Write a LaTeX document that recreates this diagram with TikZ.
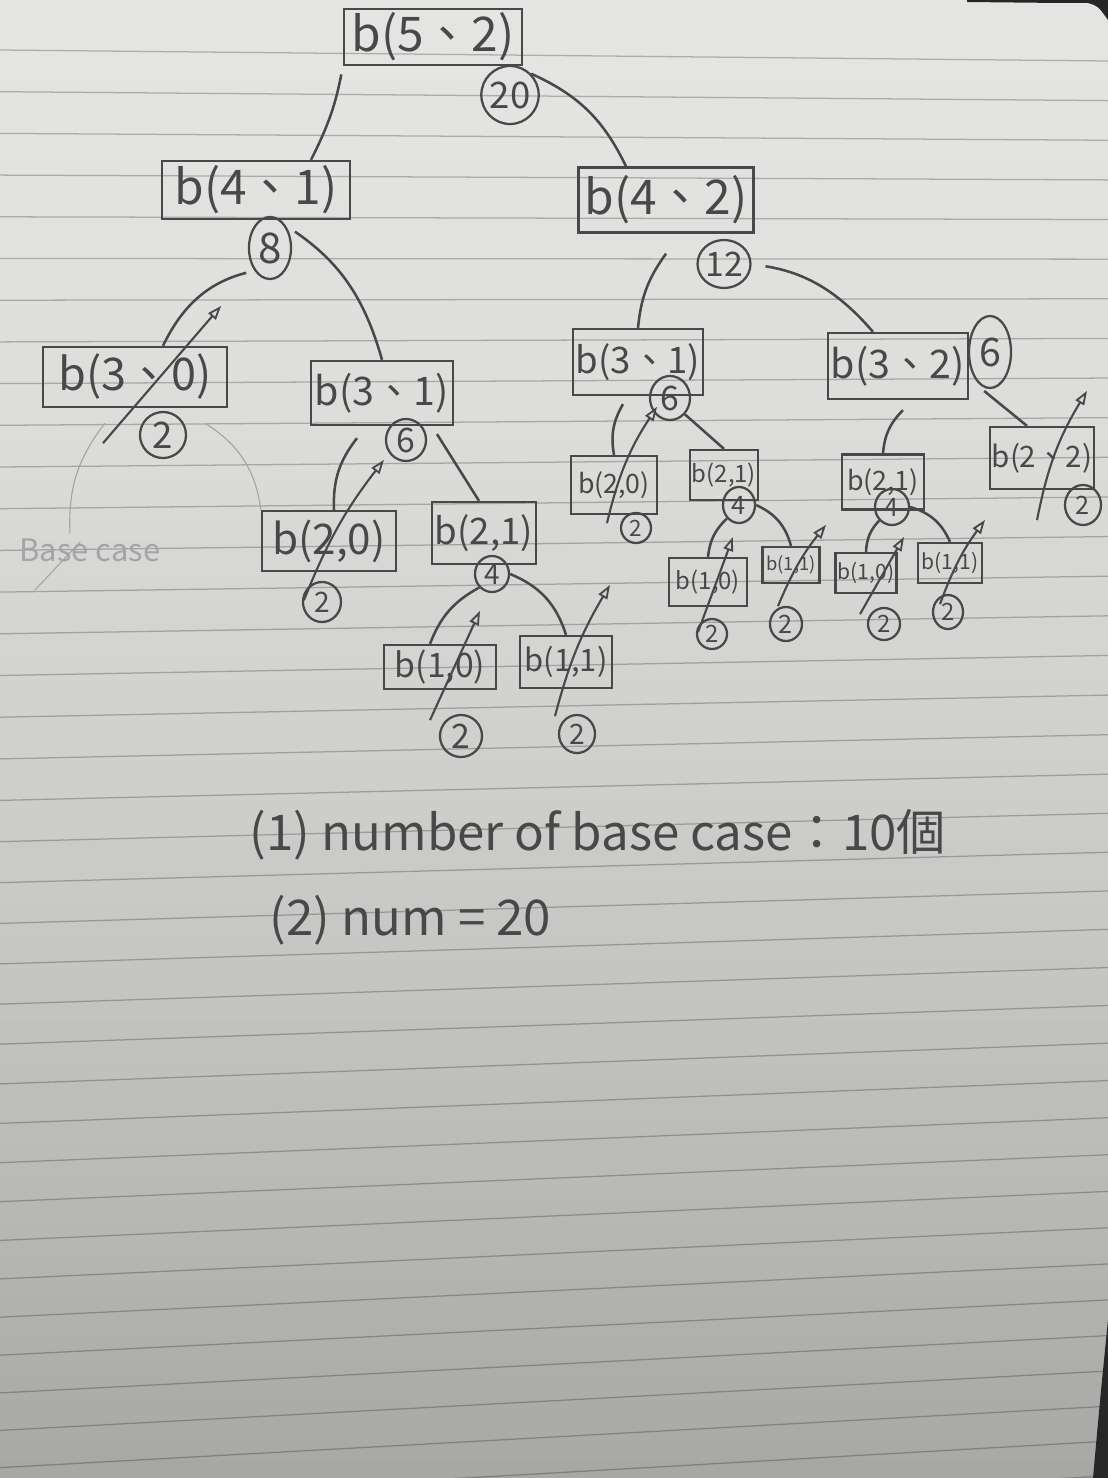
\documentclass[tikz,border=0pt]{standalone}
\usepackage{fontspec}
\setmainfont{Noto Sans CJK TC}
\usepackage{xcolor}
\definecolor{paperT}{HTML}{E4E4E2}
\definecolor{paperB}{HTML}{A6A6A4}
\definecolor{pencil}{HTML}{484848}
\definecolor{faint}{HTML}{A4A4A4}
\usetikzlibrary{arrows.meta,positioning,shapes.geometric}
\newdimen\px
\px=0.7113pt
\tikzset{
  box/.style n args={3}{draw=pencil, line width=1.6pt, text=pencil, inner sep=1pt,
    minimum width=#1*\px, minimum height=#2*\px, font=\fontsize{#3}{#3}\selectfont},
  circ/.style n args={3}{ellipse, draw=pencil, line width=1.6pt, text=pencil, inner sep=0pt,
    minimum width=#1*\px, minimum height=#2*\px, font=\fontsize{#3}{#3}\selectfont},
  link/.style={draw=pencil, line width=1.8pt},
  ret/.style={draw=pencil, line width=1.5pt, -{Triangle[open, length=10pt, width=7pt, line width=1.3pt]}},
  ruled/.style={draw=black, draw opacity=0.24, line width=0.9pt},
  answer/.style={anchor=base west, text=pencil, font=\fontsize{35}{35}\selectfont},
}

\begin{document}
\begin{tikzpicture}[x=0.025cm, y=-0.025cm]
  \useasboundingbox (0,0) rectangle (1108,1478);
  % Paper
  \foreach \s in {0,...,73} {
    \pgfmathtruncatemacro\dark{100*((\s+0.5)/74)^1.6}
    \fill[paperB!\dark!paperT] (0,\s*20) rectangle (1108,\s*20+21);
  }
  \foreach \i in {0,...,38} {
    \pgfmathsetmacro\rowshift{max(0,\i-17)}
    \pgfmathsetmacro\yl{50+41.7*(\i-\rowshift)+41.5*\rowshift-0.125*\rowshift*(\rowshift-1)}
    \pgfmathsetmacro\yr{\yl+11-2.07*\i}
    \draw[ruled] (0,\yl) -- (1108,\yr);
  }
  \fill[black!85] (967,0) -- (1108,0) -- (1108,20) .. controls (1098,6) .. (1088,3) -- (1060,3) -- (967,2) -- cycle;
  \fill[black!85] (1108,1320) .. controls (1100,1400) .. (1093,1478) -- (1108,1478) -- cycle;

  % Level 0 and 1
  \node[box={178}{56}{34}] (b52) at (433,37) {b(5、2)};
  \node[circ={54}{58}{26}] (c52) at (510,95) {20};
  \node[box={188}{58}{34}] (b41) at (256,190) {b(4、1)};
  \node[circ={42}{62}{30}] (c41) at (270,248) {8};
  \node[box={175}{65}{34}] (b42) at (666,200) {b(4、2)};
  \node[circ={50}{48}{24}] (c42) at (724,264) {12};

  % Level 2
  \node[box={184}{60}{32}] (b30) at (135,377) {b(3、0)};
  \node[circ={46}{46}{26}] (c30) at (163,435) {2};
  \node[box={142}{64}{28}] (b31) at (382,393) {b(3、1)};
  \node[circ={40}{42}{24}] (c31) at (406,440) {6};
  \node[box={130}{66}{26}] (b31r) at (638,362) {b(3、1)};
  \node[circ={40}{44}{24}] (c31r) at (670,398) {6};
  \node[box={140}{66}{28}] (b32) at (898,366) {b(3、2)};
  \node[circ={42}{72}{28}] (c32) at (990,352) {6};

  % Level 3 and 4, left
  \node[box={134}{60}{30}] (b20) at (329,541) {b(2,0)};
  \node[circ={38}{40}{20}] (c20) at (322,602) {2};
  \node[box={104}{62}{26}] (b21) at (484,533) {b(2,1)};
  \node[circ={34}{36}{20}] (c21) at (492,574) {4};
  \node[box={112}{44}{24}] (b10) at (440,667) {b(1,0)};
  \node[circ={42}{42}{24}] (c10) at (461,736) {2};
  \node[box={92}{52}{22}] (b11) at (566,662) {b(1,1)};
  \node[circ={36}{38}{20}] (c11) at (577,734) {2};

  % Level 3 and 4, right
  \node[box={86}{58}{19}] (b20r) at (614,485) {b(2,0)};
  \node[circ={30}{30}{16}] (c20r) at (636,528) {2};
  \node[box={68}{50}{17}] (b21r) at (724,475) {b(2,1)};
  \node[circ={32}{36}{18}] (c21r) at (739,505) {4};
  \node[box={78}{48}{17}] (b10r) at (708,582) {b(1,0)};
  \node[circ={30}{30}{17}] (c10r) at (712,634) {2};
  \node[box={57}{36}{13}] (b11r) at (791,565) {b(1,1)};
  \node[circ={32}{34}{18}] (c11r) at (786,624) {2};
  \node[box={82}{55}{19}] (b21rr) at (883,482) {b(2,1)};
  \node[circ={34}{36}{18}] (c21rr) at (892,507) {4};
  \node[box={61}{40}{15}] (b10rr) at (866,573) {b(1,0)};
  \node[circ={32}{32}{17}] (c10rr) at (884,624) {2};
  \node[box={64}{40}{15}] (b11rr) at (950,563) {b(1,1)};
  \node[circ={30}{34}{17}] (c11rr) at (948,612) {2};
  \node[box={104}{62}{21}] (b22) at (1042,458) {b(2、2)};
  \node[circ={36}{40}{18}] (c22) at (1083,505) {2};

  % Base case note
  \node[text=faint, font=\fontsize{22}{22}\selectfont] (base) at (90,550) {Base case};
  \draw[faint, line width=0.8pt] ([shift={(-30,15)}]b30.south) to[bend right=20] ([shift={(-20,0)}]base.north);
  \draw[faint, line width=0.8pt] ([shift={(70,15)}]b30.south) to[bend left=25] (b20.north west);
  \draw[faint, line width=0.8pt] ([shift={(-55,40)}]base.center) -- ([shift={(-10,-8)}]base.center);

  % Calls
  \draw[link, shorten <=6pt] (b52.south west) to[bend left=8] ([shift={(55,0)}]b41.north);
  \draw[link] (c52.north east) to[bend left=20] ([shift={(-40,0)}]b42.north);
  \draw[link, shorten <=6pt] (c41.south west) to[bend right=25] ([shift={(28,0)}]b30.north);
  \draw[link, shorten <=8pt] (c41.north east) to[bend left=20] (b31.north);
  \draw[link] ([shift={(0,20)}]b42.south) to[bend right=15] (b31r.north);
  \draw[link, shorten <=10pt] (c42.east) to[bend left=20] ([shift={(-25,0)}]b32.north);
  \draw[link] ([shift={(-25,12)}]b31.south) to[bend right=20] ([shift={(5,0)}]b20.north);
  \draw[link] ([shift={(55,8)}]b31.south) -- ([shift={(-5,0)}]b21.north);
  \draw[link] (c21.south west) to[bend right=20] ([shift={(-10,0)}]b10.north);
  \draw[link] (c21.east) to[bend left=25] (b11.north);
  \draw[link] ([shift={(-15,8)}]b31r.south) to[bend right=20] (b20r.north);
  \draw[link] (c31r.south east) -- (b21r.north);
  \draw[link] (c21r.south west) to[bend right=20] (b10r.north);
  \draw[link] (c21r.east) to[bend left=25] (b11r.north);
  \draw[link] ([shift={(5,10)}]b32.south) to[bend right=20] (b21rr.north);
  \draw[link] ([shift={(15,25)}]b32.east) -- ([shift={(-15,0)}]b22.north);
  \draw[link] (c21rr.south west) to[bend right=20] (b10rr.north);
  \draw[link] (c21rr.east) to[bend left=25] (b11rr.north);

  % Returns
  \draw[ret] ([shift={(-32,35)}]b30.south) -- ([shift={(-7,-40)}]b30.north east);
  \draw[ret] ([shift={(-25,28)}]b20.south) to[bend left=8] ([shift={(55,-50)}]b20.north);
  \draw[ret] ([shift={(-10,30)}]b10.south) -- ([shift={(40,-33)}]b10.north);
  \draw[ret] ([shift={(-11,27)}]b11.south) to[bend left=8] ([shift={(44,-50)}]b11.north);
  \draw[ret] ([shift={(-7,8)}]b20r.south) to[bend left=10] ([shift={(43,-48)}]b20r.north);
  \draw[ret] ([shift={(-10,25)}]b10r.south) -- ([shift={(25,-20)}]b10r.north);
  \draw[ret] ([shift={(-13,22)}]b11r.south) to[bend left=8] ([shift={(35,-21)}]b11r.north);
  \draw[ret] ([shift={(-6,20)}]b10rr.south) -- ([shift={(38,-15)}]b10rr.north);
  \draw[ret] ([shift={(-10,20)}]b11rr.south) to[bend left=8] ([shift={(35,-22)}]b11rr.north);
  \draw[ret] ([shift={(-5,30)}]b22.south) to[bend left=10] ([shift={(45,-35)}]b22.north);

  % Answers
  \node[answer] (ans1) at (245,850) {(1) number of base case：10個};
  \node[answer] (ans2) at (265,935) {(2) num = 20};
\end{tikzpicture}
\end{document}
